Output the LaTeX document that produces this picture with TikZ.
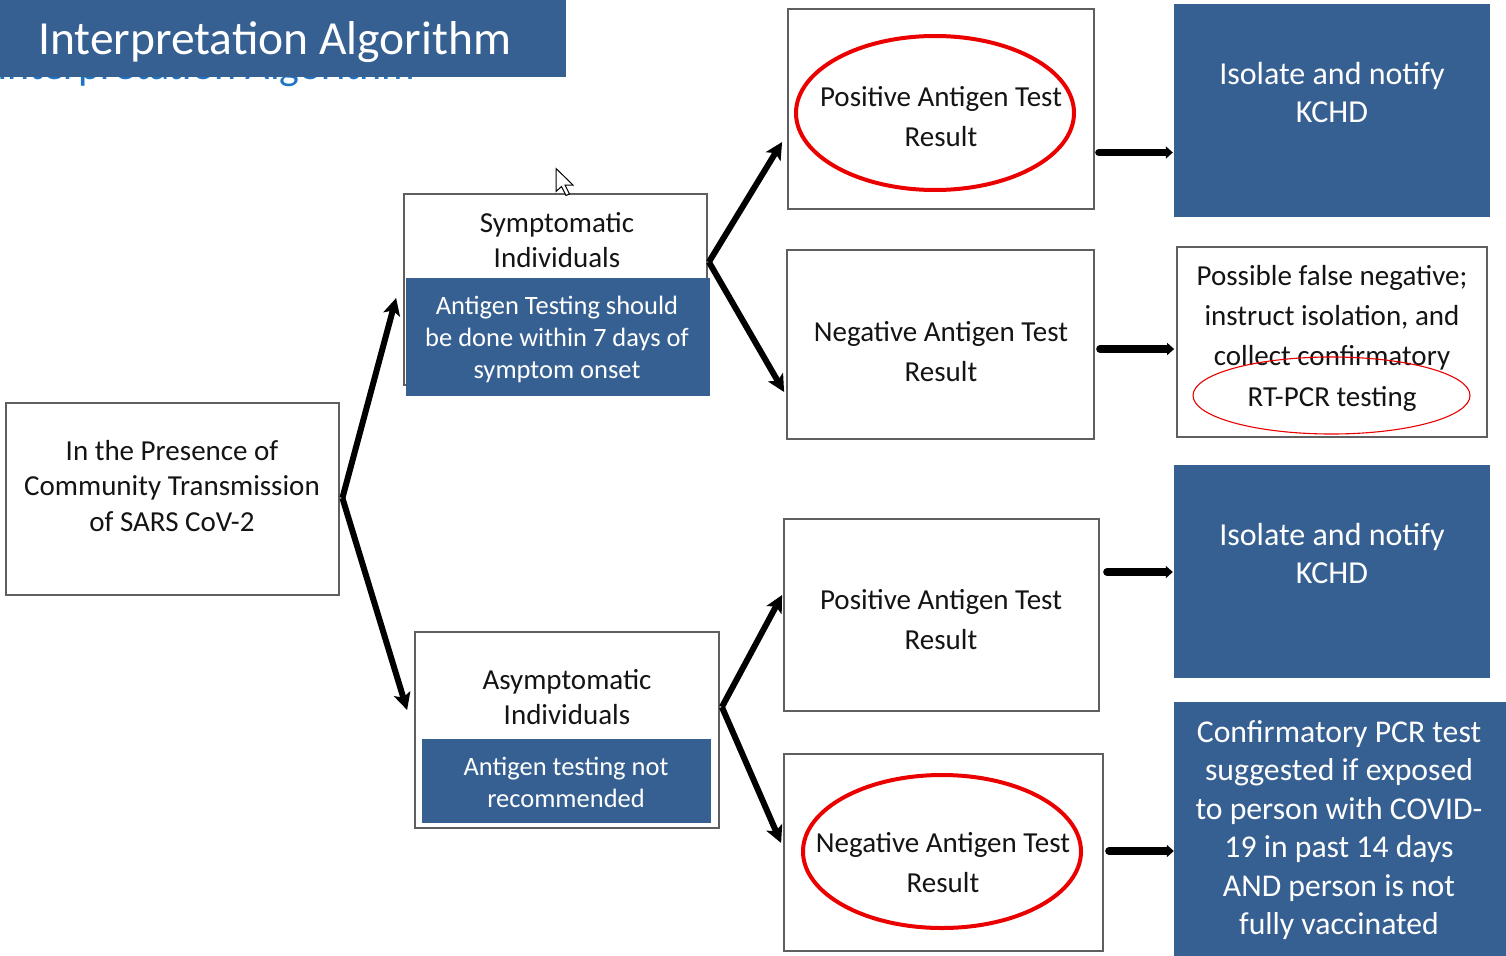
\documentclass[tikz,border=0pt]{standalone}
\usepackage{fontspec}
\setmainfont{Carlito}
\usetikzlibrary{arrows.meta,calc}
\definecolor{boxblue}{RGB}{55,96,146}
\definecolor{lineblue}{RGB}{30,115,195}
\definecolor{edgegray}{RGB}{95,95,95}
\definecolor{ringred}{RGB}{235,0,0}
\begin{document}
\begin{tikzpicture}[x=1pt,y=-1pt,
  outline/.style={draw=edgegray, line width=1.8pt, fill=white, inner sep=0pt},
  bluebox/.style={fill=boxblue, draw=none, inner sep=0pt},
  txt/.style={align=center, inner sep=0pt, text=black!92},
  wtxt/.style={align=center, inner sep=0pt, text=white},
  fbig/.style={font=\fontsize{29}{40}\selectfont},
  fmid/.style={font=\fontsize{29}{35.8}\selectfont},
  fsmall/.style={font=\fontsize{26.5}{32}\selectfont},
  fiso/.style={font=\fontsize{32}{38}\selectfont},
  diag/.style={line width=6pt, -{Stealth[length=17pt,width=17pt,inset=4pt]}},
  horiz/.style={line width=7.5pt, line cap=round, -{Triangle[length=7pt,width=12pt]}},
  ringthick/.style={draw=ringred, line width=4pt},
  ringthin/.style={draw=ringred, line width=1.1pt}
]
\useasboundingbox (0,0) rectangle (1506,955);

% title
\begin{scope}
  \clip (0,77) rectangle (566,100);
  \node[anchor=base west, inner sep=0pt, text=lineblue, font=\fontsize{42}{50}\selectfont] (ghost) at (-3,80) {Interpretation Algorithm};
\end{scope}
\node[bluebox, minimum width=566pt, minimum height=77pt] (title) at (283,38.5) {};
\node[anchor=west, inner sep=0pt, text=white, font=\fontsize{47.5}{57}\selectfont] (titletext) at (38,42) {Interpretation Algorithm};

% left box
\node[outline, minimum width=333pt, minimum height=192pt] (A) at (172.5,499) {};
\node[txt, fmid] (At) at (172,486) {In the Presence of\\Community Transmission\\of SARS CoV-2};

% symptomatic
\node[outline, minimum width=303pt, minimum height=191pt] (S) at (555.5,289.5) {};
\node[txt, fmid] (St) at (557,240) {Symptomatic\\Individuals};
\node[bluebox, minimum width=304pt, minimum height=118pt] (Sb) at (558,337) {};
\node[wtxt, fsmall] (Sbt) at (557,339) {Antigen Testing should\\be done within 7 days of\\symptom onset};

% asymptomatic
\node[outline, minimum width=304pt, minimum height=196pt] (As) at (567,730) {};
\node[txt, fmid] (Ast) at (567,697) {Asymptomatic\\Individuals};
\node[bluebox, minimum width=289pt, minimum height=84pt] (Asb) at (566.5,781) {};
\node[wtxt, fsmall] (Asbt) at (566,782) {Antigen testing not\\recommended};

% result boxes
\node[outline, minimum width=306pt, minimum height=200pt] (P1) at (941,109) {};
\node[txt, fbig] (P1t) at (941,117) {Positive Antigen Test\\Result};
\node[outline, minimum width=307pt, minimum height=189pt] (N1) at (940.5,344.5) {};
\node[txt, fbig] (N1t) at (941,352) {Negative Antigen Test\\Result};
\node[outline, minimum width=315pt, minimum height=192pt] (P2) at (941.5,615) {};
\node[txt, fbig] (P2t) at (941,620) {Positive Antigen Test\\Result};
\node[outline, minimum width=319pt, minimum height=197pt] (N2) at (943.5,852.5) {};
\node[txt, fbig] (N2t) at (943,863) {Negative Antigen Test\\Result};

% action boxes
\node[bluebox, minimum width=316pt, minimum height=213pt] (I1) at (1332,110.5) {};
\node[wtxt, fiso] (I1t) at (1332,92) {Isolate and notify\\KCHD};
\node[outline, minimum width=310pt, minimum height=190pt] (FN) at (1332,342) {};
\node[txt, font=\fontsize{29}{40.3}\selectfont] (FNt) at (1332,338) {Possible false negative;\\instruct isolation, and\\collect confirmatory\\RT-PCR testing};
\node[bluebox, minimum width=316pt, minimum height=213pt] (I2) at (1332,571.5) {};
\node[wtxt, fiso] (I2t) at (1332,553) {Isolate and notify\\KCHD};
\node[bluebox, minimum width=332pt, minimum height=258pt] (C) at (1340,831) {};
\node[wtxt, font=\fontsize{31.7}{38.4}\selectfont] (Ct) at (1339,830) {Confirmatory PCR test\\suggested if exposed\\to person with COVID-\\19 in past 14 days\\AND person is not\\fully vaccinated};

% red rings
\draw[ringthick] (935,113) ellipse [x radius=139, y radius=77];
\draw[ringthick] (942,851.5) ellipse [x radius=139, y radius=76.5];
\draw[ringthin] (1331.5,395.5) ellipse [x radius=138.5, y radius=38.5];

% connectors
\draw[diag] ($(A.east)+(2.5,-1)$) -- ($(S.west)+(-7,8.5)$);
\draw[diag] ($(A.east)+(2.5,-1)$) -- ($(As.west)+(-7,-20)$);
\draw[diag] ($(S.east)+(1,-27.5)$) -- ($(P1.west)+(-5,33)$);
\draw[diag] ($(S.east)+(1,-27.5)$) -- ($(N1.west)+(-2,47.5)$);
\draw[diag] ($(As.east)+(2,-23)$) -- ($(P2.west)+(-1,-20)$);
\draw[diag] ($(As.east)+(2,-23)$) -- ($(N2.west)+(-2,-9.5)$);
\draw[horiz] ($(P1.east)+(4,43.5)$) -- ($(I1.west)+(-1,42)$);
\draw[horiz] ($(N1.east)+(5,4.5)$) -- ($(FN.west)+(-2,7)$);
\draw[horiz] ($(P2.east)+(7,-43)$) -- ($(I2.west)+(-1,0.5)$);
\draw[horiz] ($(N2.east)+(5,-1.5)$) -- ($(C.west)+(0,20)$);

% mouse pointer
\draw[fill=white, draw=black, line width=1pt, line join=miter]
  (556,168.5) -- (556,191.5) -- (561.5,186.5) -- (566,195.5) -- (569.5,194)
  -- (565,185) -- (573,185) -- cycle;
\end{tikzpicture}
\end{document}
